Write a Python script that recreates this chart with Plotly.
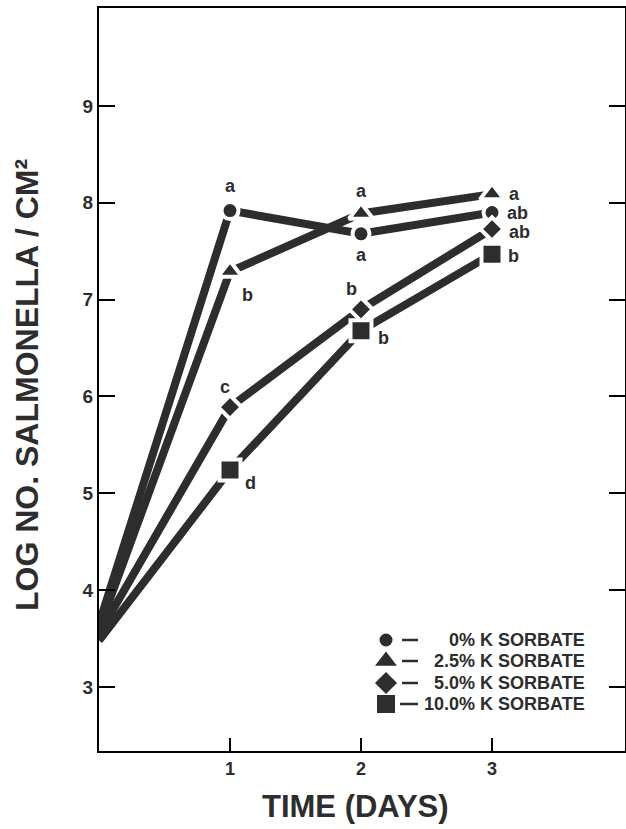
import plotly.graph_objects as go

# ---- data ----
days = [0, 1, 2, 3]
series_names = ["0% K SORBATE", "2.5% K SORBATE", "5.0% K SORBATE", "10.0% K SORBATE"]
log_0 = [3.65, 7.92, 7.68, 7.90]
log_25 = [3.60, 7.29, 7.89, 8.09]
log_50 = [3.55, 5.89, 6.90, 7.73]
log_100 = [3.48, 5.24, 6.68, 7.47]
sig_0 = ["a", "a", "ab"]
sig_25 = ["b", "a", "a"]
sig_50 = ["c", "b", "ab"]
sig_100 = ["d", "b", "b"]
y_ticks = [3, 4, 5, 6, 7, 8, 9]
x_ticks = [1, 2, 3]

values = [log_0, log_25, log_50, log_100]
sigs = [sig_0, sig_25, sig_50, sig_100]

# ---- styles ----
INK = "#2d2d2d"
FONT = "Liberation Sans, Arial, sans-serif"
symbols = ["circle", "triangle-up", "diamond", "square"]
msizes = [17, 21, 18, 21]
# label offsets (dx, dy, xanchor) for days 1..3
offsets = [
    [(0, 25, "center"), (0, -21, "center"), (13, 0, "left")],
    [(17, -23, "center"), (0, 22, "center"), (15, 0, "left")],
    [(-5, 20, "center"), (-10, 20, "center"), (15, -3, "left")],
    [(20, -13, "center"), (22, -7, "center"), (14, -2, "left")],
]

fig = go.Figure()
for i in range(4):
    sizes = [0 if d == 0 else msizes[i] for d in days]
    fig.add_trace(go.Scatter(
        x=days, y=values[i], mode="lines+markers", name=series_names[i],
        line=dict(color=INK, width=8),
        marker=dict(symbol=symbols[i], size=sizes, color=INK, opacity=1,
                    line=dict(color="white", width=4)),
        showlegend=False,
    ))

annotations = []
for i in range(4):
    for j, lab in enumerate(sigs[i]):
        dx, dy, anc = offsets[i][j]
        annotations.append(dict(
            x=days[j + 1], y=values[i][j + 1], xref="x", yref="y",
            text=lab, showarrow=False, xanchor=anc, yanchor="middle",
            xshift=dx, yshift=dy,
            font=dict(family=FONT, size=18, color=INK, weight="bold"),
        ))

# ---- custom legend on a pixel-space overlay axis ----
L, R, T, B = 99, 625, 8, 751
W, H = 626, 829
leg_rows = [640, 661, 683, 704]
leg_marker_x = 386
fig.add_trace(go.Scatter(
    x=[leg_marker_x] * 4, y=leg_rows, xaxis="x2", yaxis="y2", mode="markers",
    marker=dict(symbol=symbols, size=[13, 19, 17, 18], color=INK, opacity=1,
                line=dict(width=0)),
    showlegend=False, hoverinfo="skip",
))
shapes = []
for k, yy in enumerate(leg_rows):
    x0 = 400 if k == 3 else 402
    shapes.append(dict(type="line", xref="x2", yref="y2", x0=x0, x1=418, y0=yy, y1=yy,
                       line=dict(color=INK, width=2.5)))
    annotations.append(dict(
        x=587, y=yy, xref="x2", yref="y2", text=series_names[k], showarrow=False,
        xanchor="right", yanchor="middle",
        font=dict(family=FONT, size=18, color=INK, weight="bold"),
    ))


def px(xp):
    return (xp - L) / (R - L)


def py(yp):
    return (B - yp) / (B - T)


# axis titles
annotations.append(dict(
    x=px(27), y=py(385), xref="paper", yref="paper", text="LOG NO. SALMONELLA / CM²",
    showarrow=False, textangle=-90, xanchor="center", yanchor="middle",
    font=dict(family=FONT, size=32, color=INK, weight="bold"),
))
annotations.append(dict(
    x=px(355), y=py(806), xref="paper", yref="paper", text="TIME (DAYS)",
    showarrow=False, xanchor="center", yanchor="middle",
    font=dict(family=FONT, size=31, color=INK, weight="bold"),
))

fig.update_layout(
    width=W, height=H, autosize=False,
    margin=dict(l=L, r=W - R, t=T, b=H - B, autoexpand=False),
    paper_bgcolor="white", plot_bgcolor="white",
    font=dict(family=FONT, color=INK),
    xaxis=dict(range=[0, (R - L) / 131.0], tickvals=x_ticks, ticks="inside", ticklen=13,
               tickwidth=2, tickcolor="black", showline=True, linewidth=2,
               linecolor="black", mirror=True, showgrid=False, zeroline=False,
               tickfont=dict(family=FONT, size=18, color=INK, weight="bold")),
    yaxis=dict(range=[2.339, 10.012], tickvals=y_ticks, ticks="inside", ticklen=16,
               tickwidth=2, tickcolor="black", showline=True, linewidth=2,
               linecolor="black", mirror="ticks", showgrid=False, zeroline=False,
               tickfont=dict(family=FONT, size=19, color=INK, weight="bold")),
    xaxis2=dict(range=[L, R], overlaying="x", anchor="y2", visible=False,
                fixedrange=True),
    yaxis2=dict(range=[B, T], overlaying="y", anchor="x2", visible=False,
                fixedrange=True),
    annotations=annotations,
    shapes=shapes,
)

fig.write_html("out.html", config={"displayModeBar": False},
               post_script="document.body.style.margin='0';document.body.style.overflow='hidden';")
